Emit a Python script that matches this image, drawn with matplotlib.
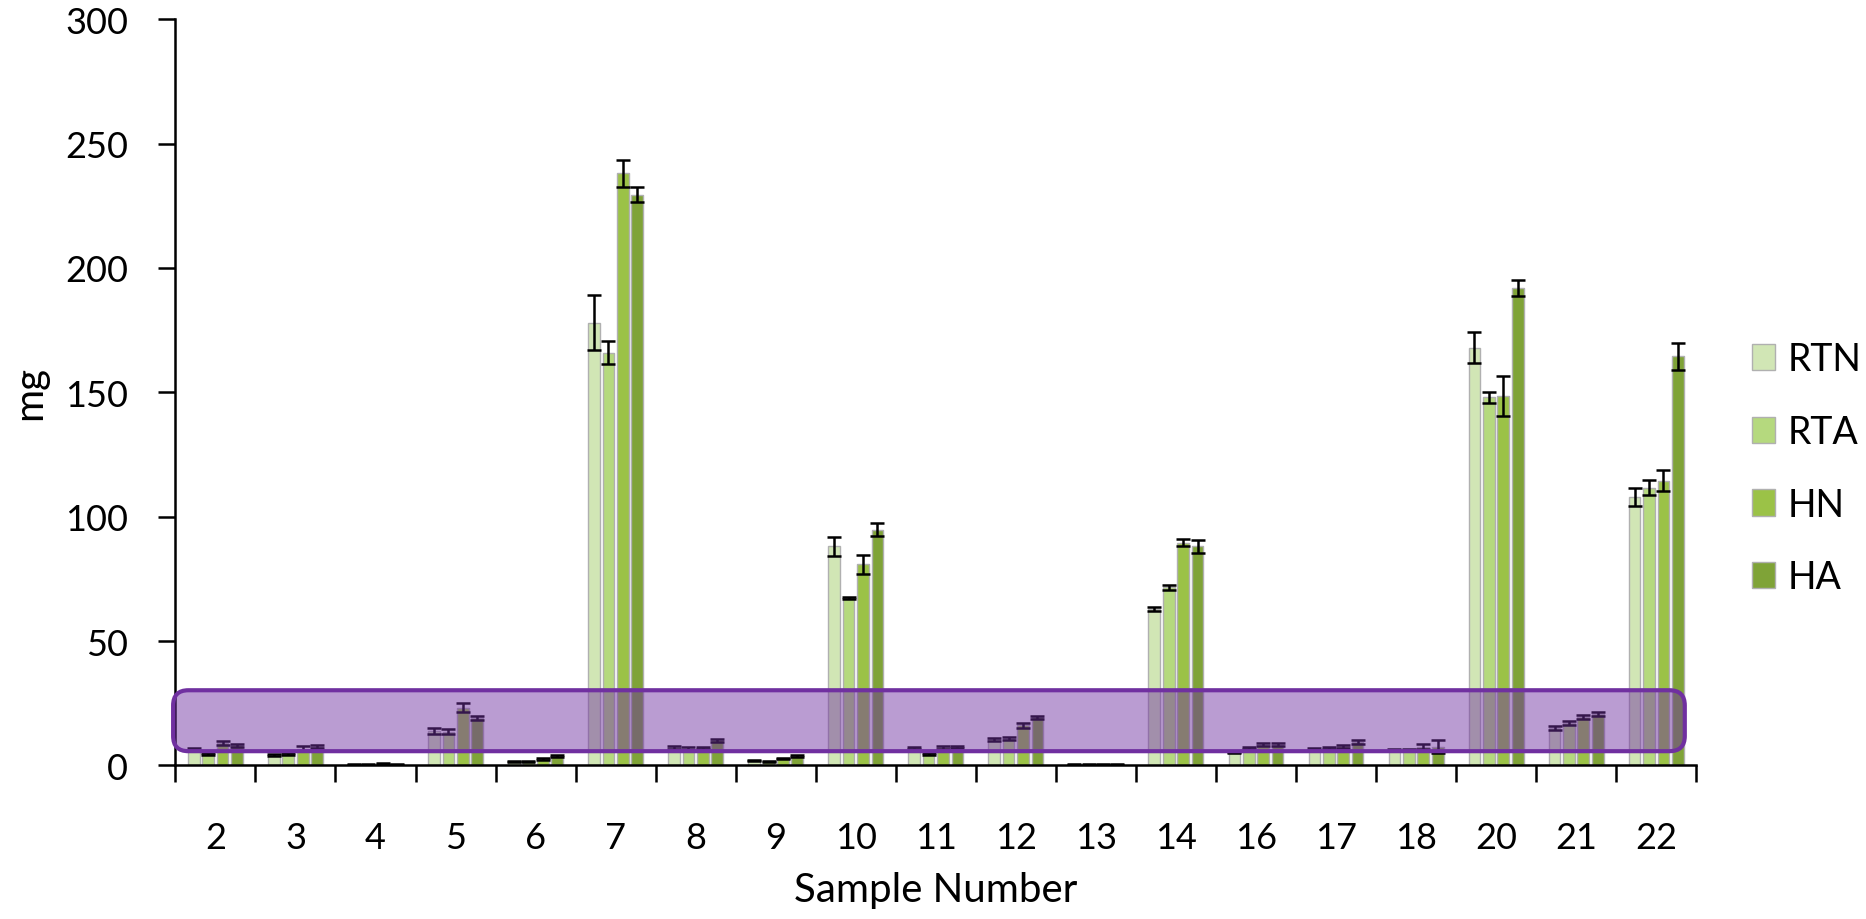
import numpy as np
import matplotlib.pyplot as plt
from matplotlib.patches import FancyBboxPatch, Patch

plt.rcParams['font.family'] = ['Lato', 'DejaVu Sans']

# sample numbers on the x axis
samples = ['2', '3', '4', '5', '6', '7', '8', '9', '10', '11', '12', '13',
           '14', '16', '17', '18', '20', '21', '22']

# mean values (mg) for each treatment
rtn = [6.5, 4.1, 0.3, 14.0, 1.5, 178, 7.3, 2.0, 88, 6.9, 10.4, 0.4, 62.8,
       5.1, 6.5, 6.0, 168, 15.2, 108]
rta = [4.7, 4.7, 0.3, 13.6, 1.5, 166, 6.7, 1.6, 67.4, 4.7, 10.7, 0.4, 71.6,
       6.9, 6.9, 6.1, 148, 17.1, 111.7]
hn = [9.1, 6.7, 0.7, 23.1, 2.5, 238, 6.9, 2.8, 80.8, 7.3, 16.1, 0.4, 89.5,
      8.3, 7.7, 7.5, 148.5, 19.4, 114.5]
ha = [8.0, 7.5, 0.3, 19.1, 3.7, 229.5, 10.0, 3.7, 94.8, 7.3, 19.3, 0.4, 88,
      8.3, 9.3, 7.5, 192, 20.5, 164.4]

# error bars
rtn_err = [0.5, 0.4, 0.2, 1.2, 0.3, 11, 0.6, 0.3, 3.8, 0.5, 0.8, 0.2, 0.8,
           0.3, 0.4, 0.4, 6.3, 0.8, 3.6]
rta_err = [0.4, 0.4, 0.2, 1.0, 0.3, 4.8, 0.5, 0.3, 0.4, 0.4, 0.6, 0.2, 1.0,
           0.4, 0.5, 0.4, 2.2, 0.9, 3.0]
hn_err = [0.8, 0.9, 0.3, 1.8, 0.3, 5.5, 0.5, 0.3, 3.8, 0.6, 0.9, 0.2, 1.5,
          0.6, 0.6, 1.0, 8.0, 0.8, 4.2]
ha_err = [0.6, 0.6, 0.2, 0.8, 0.3, 3.0, 0.6, 0.3, 2.6, 0.5, 0.7, 0.2, 2.5,
          0.6, 0.7, 2.5, 3.2, 0.8, 5.5]

series = [('RTN', rtn, rtn_err, '#D1E6B5'),
          ('RTA', rta, rta_err, '#B5D97E'),
          ('HN', hn, hn_err, '#9BC247'),
          ('HA', ha, ha_err, '#7FA337')]

# highlighted band (mg)
band_lo, band_hi = 5.7, 30.2

fig = plt.figure(figsize=(18.66, 9.2), dpi=100)
ax = fig.add_axes([0.094, 0.167, 0.815, 0.811])

x = np.arange(len(samples))
step = 0.18
width = 0.146
for i, (name, vals, errs, col) in enumerate(series):
    off = (i - 1.5) * step
    ax.bar(x + off, vals, width, color=col, edgecolor='#B0B0B0',
           linewidth=1, label=name, zorder=2)
    ax.errorbar(x + off, vals, yerr=errs, fmt='none', ecolor='black',
                elinewidth=1.8, capsize=5, capthick=1.8, zorder=3)

ax.set_xlim(-0.5, len(samples) - 0.5)
ax.set_ylim(0, 300)
ax.set_yticks(range(0, 301, 50))

# labels centred in groups, ticks between groups
ax.set_xticks(x)
ax.set_xticklabels(samples)
ax.set_xticks(np.arange(-0.5, len(samples)), minor=True)
ax.tick_params(axis='x', which='major', length=0, pad=40, labelsize=26)
ax.tick_params(axis='x', which='minor', length=12, width=1.8)
ax.tick_params(axis='y', length=12, width=1.8, labelsize=26, pad=22)

for s in ['top', 'right']:
    ax.spines[s].set_visible(False)
ax.spines['left'].set_linewidth(1.8)
ax.spines['bottom'].set_linewidth(1.8)

ax.set_xlabel('Sample Number', fontsize=29, labelpad=12)
ax.set_ylabel('mg', fontsize=29, labelpad=12)

# purple rounded box over the low values
y0 = band_lo / 300
y1 = band_hi / 300
ax_w = 0.815 * 1866
ax_h = 0.811 * 920
box = FancyBboxPatch((-0.0015, y0), 0.994, y1 - y0,
                     boxstyle='round,pad=0,rounding_size=0.01',
                     mutation_aspect=ax_w / ax_h,
                     transform=ax.transAxes,
                     facecolor=(0.44, 0.19, 0.63, 0.48),
                     edgecolor='#7030A0', linewidth=3, zorder=4,
                     clip_on=False)
ax.add_patch(box)

handles = [Patch(facecolor=c, edgecolor='#B0B0B0', label=n)
           for n, _, _, c in series]
fig.legend(handles=handles, loc='center left', bbox_to_anchor=(0.921, 0.49),
           frameon=False, fontsize=27, handlelength=0.6, handleheight=0.7,
           handletextpad=0.35, labelspacing=0.98)

plt.savefig('out.png', dpi=100)
